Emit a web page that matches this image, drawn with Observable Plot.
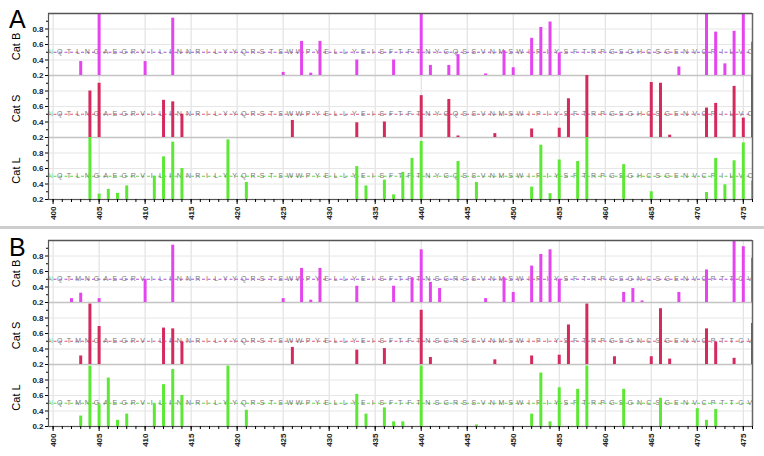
<!DOCTYPE html>
<html>
<head>
<meta charset="utf-8">
<script src="https://cdn.jsdelivr.net/npm/d3@7"></script>
<script src="https://cdn.jsdelivr.net/npm/@observablehq/plot@0.6"></script>
<style>
  body { margin: 0; background: #fff; font-family: "Liberation Sans", Arial, sans-serif; }
  #wrap { position: relative; width: 764px; height: 456px; overflow: hidden; }
  .plabel { position: absolute; left: 9px; font-size: 25px; color: #000; line-height: 1; }
  .divider { position: absolute; left: 0; top: 226px; width: 764px; height: 3px; background: #cdcdcd; }
  #wrap svg { position: absolute; left: 0; }
</style>
</head>
<body>
<div id="wrap"></div>
<script>
// ---------------- data ----------------
const categories = ["Cat B", "Cat S", "Cat L"];
const barColors = ["#e445ef", "#d52a5e", "#5ee836"];
const dashColors = ["#b34fd6", "#e2557f", "#62d544"];
const xTicks = [400, 405, 410, 415, 420, 425, 430, 435, 440, 445, 450, 455, 460, 465, 470, 475];
const yTicks = [0.2, 0.4, 0.6, 0.8];

// residue sequence, starting at position 400
const seqA = "NQTLNGAEGRVILINNRILYYQRSTSWWPYELLYEISFTFTNYGQSSVNMSWIPIYSFTRPGSGHCSGENVCPILVCV";
const seqB = "NQTMNGAEGRVILINNRILYYQRSTSWWPYELLYEISFTFTNSGRSSVNMSWIPIYSFTRPGSGNCSGENVCPTTCV";

// Panel A
const aCatBPos = [403,405,410,413,425,427,428,429,433,437,440,441,443,444,447,449,450,452,453,454,455,468,471,472,473,474,475,476];
const aCatBVal = [0.38,1.0,0.38,0.94,0.24,0.64,0.23,0.64,0.40,0.40,1.0,0.33,0.33,0.47,0.22,0.52,0.30,0.68,0.82,0.89,0.49,0.31,1.0,0.76,0.35,0.77,1.0,0.63];
const aCatSPos = [404,405,412,413,414,426,433,436,440,443,444,448,452,455,456,458,465,466,467,471,472,474,475,476];
const aCatSVal = [0.80,0.90,0.68,0.66,0.50,0.42,0.39,0.40,0.74,0.69,0.22,0.25,0.31,0.32,0.70,1.0,0.91,0.90,0.23,0.58,0.64,0.86,0.45,1.0];
const aCatLPos = [404,405,406,407,408,411,412,413,414,419,421,433,434,436,437,438,439,440,444,446,452,453,454,455,457,458,462,465,471,472,473,474,475,476];
const aCatLVal = [1.0,0.27,0.33,0.28,0.375,0.50,0.75,0.94,0.60,0.97,0.42,0.625,0.375,0.45,0.26,0.55,0.73,0.95,0.69,0.42,0.36,0.90,0.275,0.71,0.69,1.0,0.65,0.30,0.29,0.73,0.39,0.70,0.93,0.44];

// Panel B
const bCatBPos = [402,403,405,410,413,425,427,428,429,433,437,439,440,441,442,447,449,450,452,453,454,455,462,463,464,468,471,474,475,476];
const bCatBVal = [0.25,0.32,0.25,0.50,0.94,0.25,0.64,0.23,0.64,0.41,0.41,0.52,0.88,0.46,0.38,0.25,0.52,0.33,0.67,0.82,0.88,0.50,0.33,0.38,0.22,0.33,0.62,1.0,0.92,0.77];
const bCatSPos = [403,404,405,412,413,414,426,433,436,440,441,448,452,455,456,458,461,465,466,467,471,472,474,476];
const bCatSVal = [0.31,0.98,0.69,0.67,0.66,0.49,0.42,0.385,0.405,0.90,0.29,0.26,0.31,0.32,0.71,0.98,0.30,0.30,0.92,0.27,0.66,0.49,0.28,0.73];
const bCatLPos = [403,404,405,406,407,408,411,412,413,414,419,421,433,434,436,437,438,440,446,452,453,454,455,457,458,462,466,470,471,472];
const bCatLVal = [0.335,0.98,0.48,0.825,0.28,0.36,0.49,0.74,0.935,0.60,0.98,0.41,0.615,0.36,0.44,0.26,0.26,0.98,0.22,0.36,0.89,0.26,0.70,0.68,0.98,0.68,0.565,0.43,0.28,0.42];

// ---------------- drawing ----------------
const FONT = "'Liberation Sans', Arial, sans-serif";

function makePanel(seq, series, opts) {
  const marks = [];
  marks.push(Plot.gridX(xTicks, {stroke: "#dcdcdc", strokeOpacity: 1}));
  marks.push(Plot.gridY([0.4, 0.6, 0.8], {stroke: "#e6e6e6", strokeOpacity: 1}));
  marks.push(Plot.ruleY([0.2], {stroke: "#c4c4c4", strokeWidth: 1.5}));

  categories.forEach((cat, ci) => {
    const s = series[ci];
    const rows = s.pos.map((p, i) => ({cat, pos: p, val: s.val[i]}));
    const letters = [...seq].map((ch, i) => ({cat, pos: 400 + i, ch}));
    marks.push(Plot.ruleY([{cat, v: 0.5}], {y: "v", fy: "cat", stroke: dashColors[ci], strokeWidth: 1, strokeDasharray: "3,2.5"}));
    marks.push(Plot.text(letters.filter(d => d.pos > 400), {
      x: d => d.pos - 0.28, y: () => 0.5, fy: "cat", text: "ch",
      fontSize: 7, fill: "#7a7a7a", lineAnchor: "bottom", dy: 1.5, clip: true
    }));
    marks.push(Plot.text(letters.filter(d => d.pos === 400), {
      x: d => d.pos - 0.28, y: () => 0.5, fy: "cat", text: "ch",
      fontSize: 7, fill: "#86dd72", lineAnchor: "bottom", dy: 1.5
    }));
    marks.push(Plot.ruleX(rows, {
      x: "pos", y1: () => 0.2, y2: "val", fy: "cat",
      stroke: barColors[ci], strokeWidth: 3, clip: true
    }));
  });

  marks.push(Plot.ruleX([476], {stroke: "#666", strokeWidth: 1.5}));
  marks.push(Plot.ruleY([{cat: "Cat B", v: 1.0}], {y: "v", fy: "cat", stroke: "#555", strokeWidth: 1.5}));
  marks.push(Plot.ruleY([{cat: "Cat L", v: 0.2}], {y: "v", fy: "cat", stroke: "#555", strokeWidth: 1.2}));

  marks.push(Plot.axisY(yTicks, {
    anchor: "left", tickSize: 3, tickPadding: 2, tickFormat: d => d.toFixed(1),
    fontSize: 8, fontWeight: "bold", fill: "#222", label: null
  }));
  marks.push(Plot.axisY([0.3, 0.5, 0.7, 0.9], {anchor: "left", tickSize: 2, tickFormat: () => "", label: null}));
  marks.push(Plot.ruleX([399.5], {stroke: "#555", strokeWidth: 1.2}));

  marks.push(Plot.text(categories.map(c => ({cat: c})), {
    fy: "cat", text: "cat", frameAnchor: "left", textAnchor: "middle",
    rotate: -90, dx: -32, dy: 2, fontSize: 11, fill: "#000"
  }));

  marks.push(Plot.axisX(d3.range(400, 477), {anchor: "bottom", tickSize: 3, tickFormat: () => "", label: null}));
  marks.push(Plot.axisX(xTicks, {
    anchor: "bottom", tickSize: 5, tickPadding: 2, tickRotate: -90,
    fontSize: 8, fontWeight: "bold", fill: "#222", label: null
  }));

  const svg = Plot.plot({
    width: 764,
    height: opts.height,
    marginLeft: 48,
    marginRight: 12,
    marginTop: opts.top,
    marginBottom: opts.bottom,
    x: {domain: [399.5, 476], axis: null},
    y: {domain: [0.2, 1.0], axis: null},
    fy: {domain: categories, padding: 0, axis: null},
    style: {fontFamily: FONT, background: "transparent", overflow: "visible"},
    marks
  });
  svg.style.top = opts.offset + "px";
  return svg;
}

const wrap = document.getElementById("wrap");

const panelA = makePanel(seqA, [
  {pos: aCatBPos, val: aCatBVal},
  {pos: aCatSPos, val: aCatSVal},
  {pos: aCatLPos, val: aCatLVal}
], {height: 226, top: 12, bottom: 26, offset: 0});

const panelB = makePanel(seqB, [
  {pos: bCatBPos, val: bCatBVal},
  {pos: bCatSPos, val: bCatSVal},
  {pos: bCatLPos, val: bCatLVal}
], {height: 226, top: 10, bottom: 29, offset: 229});

wrap.appendChild(panelA);
wrap.appendChild(panelB);

const div = document.createElement("div");
div.className = "divider";
wrap.appendChild(div);

const la = document.createElement("div");
la.className = "plabel"; la.textContent = "A"; la.style.top = "7px";
wrap.appendChild(la);
const lb = document.createElement("div");
lb.className = "plabel"; lb.textContent = "B"; lb.style.top = "235px";
wrap.appendChild(lb);
</script>
</body>
</html>
